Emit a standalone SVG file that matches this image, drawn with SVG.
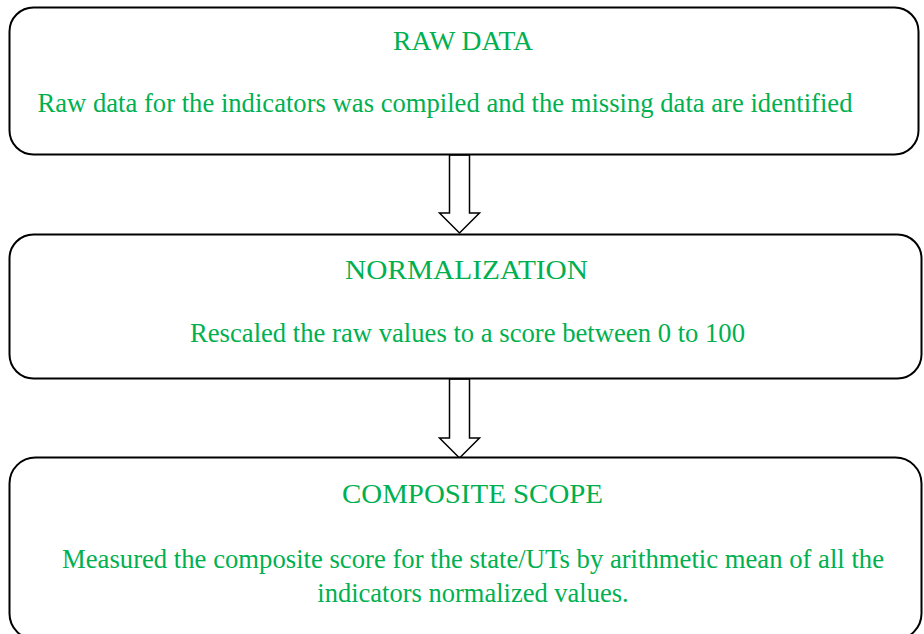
<svg xmlns="http://www.w3.org/2000/svg" width="924" height="634" viewBox="0 0 924 634">
<style>
.box{fill:#fff;stroke:#000;stroke-width:2}
.arr{fill:#fff;stroke:#000;stroke-width:1.5;stroke-linejoin:miter}
.t{font-family:'Liberation Serif',Tinos,'Times New Roman','DejaVu Serif',serif;fill:#00B050;font-size:26.5px;text-anchor:middle}
</style>
<rect width="924" height="634" fill="#fff"/>
<g id="connectors">
<path class="arr" d="M449.5,155 L469.5,155 L469.5,213 L479.5,213 L459.5,233 L439.5,213 L449.5,213 Z"/>
<path class="arr" d="M449.5,379 L469.5,379 L469.5,438 L479.5,438 L459.5,458 L439.5,438 L449.5,438 Z"/>
</g>
<g id="raw-data">
<rect class="box" x="9.5" y="7.5" width="909" height="147" rx="24" ry="24"/>
<text class="t" x="463" y="50" font-family="Liberation Serif, serif" textLength="140" lengthAdjust="spacingAndGlyphs">RAW DATA</text>
<text class="t" x="445" y="112" font-family="Liberation Serif, serif" textLength="815" lengthAdjust="spacingAndGlyphs">Raw data for the indicators was compiled and the missing data are identified</text>
</g>
<g id="normalization">
<rect class="box" x="9.5" y="234.5" width="912" height="144" rx="24" ry="24"/>
<text class="t" x="466.5" y="279" font-family="Liberation Serif, serif" textLength="243" lengthAdjust="spacingAndGlyphs">NORMALIZATION</text>
<text class="t" x="467.5" y="342" font-family="Liberation Serif, serif" textLength="555" lengthAdjust="spacingAndGlyphs">Rescaled the raw values to a score between 0 to 100</text>
</g>
<g id="composite-scope">
<rect class="box" x="9.5" y="457.5" width="912" height="182" rx="26" ry="26"/>
<text class="t" x="472.5" y="503" font-family="Liberation Serif, serif" textLength="261" lengthAdjust="spacingAndGlyphs">COMPOSITE SCOPE</text>
<text class="t" x="473" y="568" font-family="Liberation Serif, serif" textLength="822" lengthAdjust="spacingAndGlyphs">Measured the composite score for the state/UTs by arithmetic mean of all the</text>
<text class="t" x="473" y="602" font-family="Liberation Serif, serif">indicators normalized values.</text>
</g>
</svg>
